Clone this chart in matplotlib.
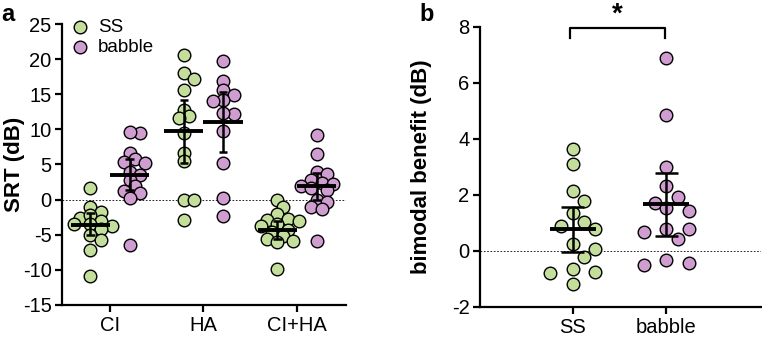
import matplotlib.pyplot as plt
import numpy as np

plt.rcParams['font.family'] = ['Liberation Sans', 'DejaVu Sans']
plt.rcParams['axes.unicode_minus'] = False

# panel a: SRT per listening condition
conds = ['CI', 'HA', 'CI+HA']
srt_ss = [
    [1.7, -1.0, -1.7, -2.6, -2.2, -3.0, -3.4, -3.7, -4.2, -5.0, -5.8, -7.1, -10.9, -3.5],
    [20.6, 18.0, 17.2, 15.6, 12.8, 11.9, 11.6, 9.5, 6.7, 5.5, 0.0, 0.0, -2.9],
    [-0.1, -1.1, -2.1, -2.8, -2.9, -3.0, -3.5, -3.8, -4.3, -4.6, -5.2, -5.6, -5.9, -6.1, -9.9],
]
srt_babble = [
    [9.5, 9.6, 6.7, 5.8, 5.4, 5.2, 4.0, 3.5, 2.8, 1.9, 1.2, 1.0, 0.3, -6.4],
    [19.7, 16.9, 15.6, 14.9, 14.2, 14.0, 12.2, 12.3, 9.7, 5.2, 0.2, -2.3],
    [9.2, 6.5, 3.9, 3.6, 2.8, 2.4, 2.2, 2.0, 1.6, 1.3, 0.0, -0.4, -1.1, -1.3, -5.9],
]
# summary lines: centre, upper, lower
sum_ss = [(-3.56, -1.9, -5.1), (9.8, 14.2, 5.2), (-4.27, -3.0, -5.6)]
sum_babble = [(3.56, 5.8, 1.3), (11.05, 15.3, 6.8), (2.0, 3.8, 0.0)]

# panel b: bimodal benefit
noise = ['SS', 'babble']
benefit_ss = [3.66, 3.1, 2.13, 1.8, 1.35, 1.03, 0.91, 0.78, 0.24, 0.07, -0.2, -0.66, -0.74, -0.8, -1.19]
benefit_babble = [6.88, 4.84, 3.0, 2.33, 1.92, 1.73, 1.53, 1.44, 0.8, 0.78, 0.67, 0.42, -0.32, -0.5, -0.42]
sum_benefit = [(0.78, 1.57, -0.02), (1.68, 2.78, 0.55)]

green = '#c4df9c'
purple = '#d09dd0'
diam = 12.6  # marker diameter in px
msize = (diam * 72 / 100) ** 2


def swarm(vals, xc, px_x, px_y, step, mind):
    # simple beeswarm in pixel space, points may overlap a little
    order = np.argsort(vals)[::-1]
    placed = []
    xs = np.zeros(len(vals))
    for i in order:
        y = vals[i] * px_y
        for k in [0, 1, -1, 2, -2, 3, -3, 4, -4, 5, -5, 6, -6]:
            off = k * step
            if all((off - po) ** 2 + (y - py) ** 2 >= mind ** 2 for po, py in placed):
                break
        placed.append((off, y))
        xs[i] = xc + off / px_x
    return xs


def style(ax):
    for s in ['top', 'right']:
        ax.spines[s].set_visible(False)
    for s in ['left', 'bottom']:
        ax.spines[s].set_linewidth(1.6)
    ax.tick_params(width=1.6, length=5, labelsize=14.5)
    ax.tick_params(axis='y', pad=2.5)
    ax.tick_params(axis='x', pad=3)


fig = plt.figure(figsize=(7.62, 3.38), dpi=100)
ax1 = fig.add_axes([62 / 762, 1 - 305 / 338, 284 / 762, 281 / 338])
ax2 = fig.add_axes([480 / 762, 1 - 307 / 338, 281 / 762, 280 / 338])

# ---- panel a
ax1.set_xlim(-0.513, 2.524)
ax1.set_ylim(-15, 25)
px_x = 284 / (2.524 + 0.513)
px_y = 281 / 40
ax1.axhline(0, color='k', lw=0.6, ls=(0, (2, 2)), zorder=0)
for i in range(3):
    for vals, col, dx, sm in [(srt_ss[i], green, -0.21, sum_ss[i]),
                              (srt_babble[i], purple, 0.21, sum_babble[i])]:
        v = np.array(vals)
        xs = swarm(v, i + dx, px_x, px_y, diam * 0.42, diam * 0.62)
        ax1.scatter(xs, v, s=msize, c=col, edgecolors='k', linewidths=1, zorder=2, clip_on=False)
        m, hi, lo = sm
        ax1.hlines(m, i + dx - 0.21, i + dx + 0.21, color='k', lw=2.8, zorder=3)
        ax1.vlines(i + dx, lo, hi, color='k', lw=1.8, zorder=3)
        ax1.hlines([lo, hi], i + dx - 0.045, i + dx + 0.045, color='k', lw=1.8, zorder=3)
ax1.set_xticks(range(3))
ax1.set_xticklabels(conds)
ax1.set_yticks(range(-15, 26, 5))
ax1.set_ylabel('SRT (dB)', fontsize=16, fontweight='bold')
ax1.yaxis.set_label_coords(-0.13, 0.5)
style(ax1)
ax1.scatter([], [], s=msize, c=green, edgecolors='k', linewidths=1, label='SS')
ax1.scatter([], [], s=msize, c=purple, edgecolors='k', linewidths=1, label='babble')
ax1.legend(loc='upper left', frameon=False, fontsize=13.5, handletextpad=0.45,
           handlelength=1.0, borderpad=0, borderaxespad=0.0, labelspacing=0.2,
           bbox_to_anchor=(0.03, 1.02))

# ---- panel b
ax2.set_xlim(-0.99, 2.01)
ax2.set_ylim(-2, 8)
px_x = 281 / 3.0
px_y = 280 / 10
ax2.axhline(0, color='k', lw=0.6, ls=(0, (2, 2)), zorder=0)
for i, (vals, col, sm) in enumerate([(benefit_ss, green, sum_benefit[0]),
                                     (benefit_babble, purple, sum_benefit[1])]):
    v = np.array(vals)
    xs = swarm(v, i, px_x, px_y, diam * 0.9, diam * 1.0)
    ax2.scatter(xs, v, s=msize, c=col, edgecolors='k', linewidths=1, zorder=2)
    m, hi, lo = sm
    ax2.hlines(m, i - 0.245, i + 0.245, color='k', lw=2.8, zorder=3)
    ax2.vlines(i, lo, hi, color='k', lw=1.8, zorder=3)
    ax2.hlines([lo, hi], i - 0.125, i + 0.125, color='k', lw=1.8, zorder=3)
ax2.set_xticks(range(2))
ax2.set_xticklabels(noise)
ax2.set_yticks(range(-2, 9, 2))
ax2.set_ylabel('bimodal benefit (dB)', fontsize=16, fontweight='bold')
ax2.yaxis.set_label_coords(-0.172, 0.5)
style(ax2)
# significance bracket
ax2.plot([-0.03, -0.03, 0.99, 0.99], [7.6, 7.95, 7.95, 7.6], color='k', lw=1.6, clip_on=False)
ax2.text(0.48, 7.98, '*', ha='center', va='bottom', fontsize=20, fontweight='bold')

fig.text(0.002, 0.99, 'a', fontsize=17, fontweight='bold', va='top')
fig.text(419 / 762, 0.99, 'b', fontsize=17, fontweight='bold', va='top')

fig.savefig('out.png', dpi=100)
